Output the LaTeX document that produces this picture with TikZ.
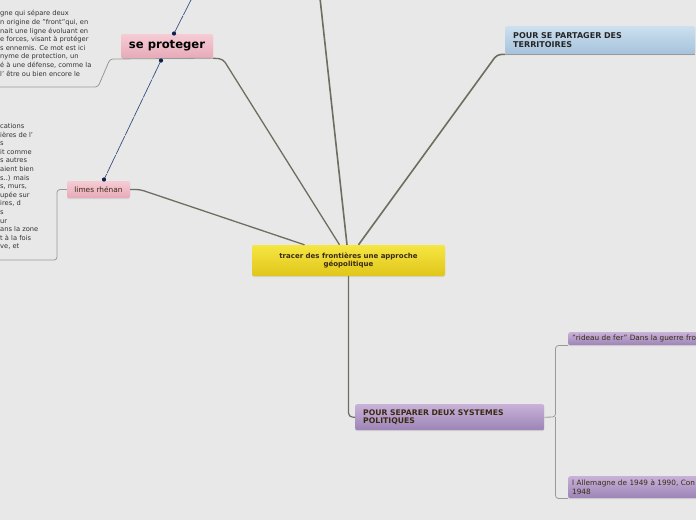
\documentclass[tikz,border=0pt]{standalone}
\usepackage{fontspec}
\setmainfont{DejaVu Sans}
\usetikzlibrary{shadows}

\definecolor{pagebg}{HTML}{E8E8E8}
\definecolor{branchcol}{HTML}{6E6E60}
\definecolor{subcol}{HTML}{9A9A94}
\definecolor{relcol}{HTML}{34507F}
\definecolor{dotcol}{HTML}{0D1F4E}
\definecolor{yeltop}{HTML}{F6E642}
\definecolor{yelbot}{HTML}{E0C61A}
\definecolor{pinktop}{HTML}{F6CCD4}
\definecolor{pinkbot}{HTML}{E6AAB8}
\definecolor{bluetop}{HTML}{CCE0F0}
\definecolor{bluebot}{HTML}{A6C2DA}
\definecolor{purptop}{HTML}{C8B2D8}
\definecolor{purpbot}{HTML}{9C84B6}
\definecolor{inktext}{HTML}{3A2A14}
\definecolor{notetext}{HTML}{333333}

\tikzset{
  topic/.style={rounded corners=2pt, inner sep=0pt,
    drop shadow={shadow xshift=0pt, shadow yshift=-1pt, opacity=0.18}},
  central/.style={topic, top color=yeltop, bottom color=yelbot, align=center,
    minimum width=193, minimum height=31, text=inktext,
    font=\fontsize{7}{8.4}\selectfont\bfseries},
  pinktopic/.style={topic, top color=pinktop, bottom color=pinkbot, align=center},
  bluetopic/.style={topic, top color=bluetop, bottom color=bluebot, align=left,
    inner xsep=8pt, text=black!85, font=\fontsize{8}{8.8}\selectfont\bfseries},
  purptopic/.style={topic, top color=purptop, bottom color=purpbot, align=left,
    text=inktext},
  notetxt/.style={inner sep=0pt, align=left, text=notetext,
    font=\fontsize{6.7}{8.6}\selectfont},
  branch/.style={draw=branchcol, line width=1.6pt, rounded corners=4pt},
  subbranch/.style={draw=subcol, line width=0.8pt, rounded corners=3pt},
  relation/.style={draw=relcol, line width=0.7pt, dash pattern=on 20pt off 1pt},
  reldot/.style={fill=dotcol, circle, inner sep=0pt, minimum size=4.2pt}
}

\begin{document}
\begin{tikzpicture}[x=1pt, y=-1pt]
\useasboundingbox (0,0) rectangle (696,520);
\fill[pagebg] (0,0) rectangle (696,520);
\clip (0,0) rectangle (696,520);

% main topic and sub-topics
\node[central] (center) at (348.5,260.5) {tracer des frontières une approche\\géopolitique};
\node[pinktopic, minimum width=92, minimum height=24,
  font=\fontsize{11.6}{12}\selectfont\bfseries] (proteger) at (167,46) {se proteger};
\node[pinktopic, minimum width=63, minimum height=17, text=inktext,
  font=\fontsize{7.4}{8}\selectfont] (limes) at (98.5,189.5) {limes rhénan};
\node[bluetopic, anchor=north west, minimum width=190, minimum height=28,
  text width=174] (partager) at (505,26) {POUR SE PARTAGER DES\\TERRITOIRES};
\node[purptopic, anchor=north west, minimum width=189, minimum height=26,
  inner xsep=8pt, text width=173, font=\fontsize{7.7}{8.8}\selectfont\bfseries]
  (separer) at (355,404) {POUR SEPARER DEUX SYSTEMES\\POLITIQUES};
\node[purptopic, anchor=north west, minimum width=170, minimum height=13,
  inner xsep=4pt, text width=162, font=\fontsize{7.3}{8.6}\selectfont]
  (rideau) at (568,332) {"rideau de fer" Dans la guerre fro};
\node[purptopic, anchor=north west, minimum width=170, minimum height=22,
  inner xsep=4pt, text width=162, font=\fontsize{7.3}{9}\selectfont]
  (allemagne) at (568,476) {l Allemagne de 1949 à 1990, Con\\1948};

% notes
\node[notetxt, anchor=north west] (protnote) at (0,10.3) {gne qui sépare deux\\
n origine de "front"qui, en\\nait une ligne évoluant en\\
e forces, visant à protéger\\s ennemis. Ce mot est ici\\
nyme de protection, un\\é à une défense, comme la\\ l' être ou bien encore le};
\node[notetxt, anchor=north west] (limesnote) at (0,123.3) {cations\\ières de l'\\s\\
it comme\\s autres\\aient bien\\s..) mais\\s, murs,\\upée sur\\ires, d\\s\\ur\\
ans la zone\\t à la fois\\ve, et};

% bend points
\coordinate (topend) at (320,-2);
\coordinate (protbend) at (223,59);
\coordinate (protleft) at (110,59);
\coordinate (protdown) at (98,87);
\coordinate (protend) at (-2,87);
\coordinate (limesbend) at (140,189.5);
\coordinate (limesleft) at (57,189.5);
\coordinate (limesdown) at (57,260);
\coordinate (limesend) at (-2,260);
\coordinate (partbend) at (497,54.5);
\coordinate (sepbend) at (348.5,417);
\coordinate (sepright) at (555.5,417);
\coordinate (rideaubend) at (555.5,345.5);
\coordinate (allembend) at (555.5,498.5);
\coordinate (relend) at (192,-2);

% branches from the main topic
\draw[branch] ([xshift=-1.5pt]center.north) -- (topend);
\draw[branch, line width=1.3pt] ([xshift=-9pt]center.north) -- (protbend) -- (proteger.south east);
\draw[branch, line width=1.3pt] ([xshift=-44pt]center.north) -- (limesbend) -- (limes.east);
\draw[branch] ([xshift=10pt]center.north) -- (partbend) -- (partager.south west);
\draw[branch, line width=1.2pt] (center.south) -- (sepbend) -- (separer.west);

% underlines and notes
\draw[subbranch] (proteger.south east) -- (protleft) -- (protdown) -- (protend);
\draw[subbranch] (partager.south west) -- (partager.south east);
\draw[subbranch] (limes.west) -- (limesleft) -- (limesdown) -- (limesend);
\draw[subbranch] (separer.east) -- (sepright) -- (rideaubend) -- (rideau.south west);
\draw[subbranch] (sepright) -- (allembend) -- (allemagne.south west);

% relationships
\draw[relation] (174,33.5) node[reldot] (reltop) {} -- (relend);
\draw[relation] (161,60.5) node[reldot] (relbot) {} -- (104,179.5) node[reldot] (rellimes) {};
\end{tikzpicture}
\end{document}
